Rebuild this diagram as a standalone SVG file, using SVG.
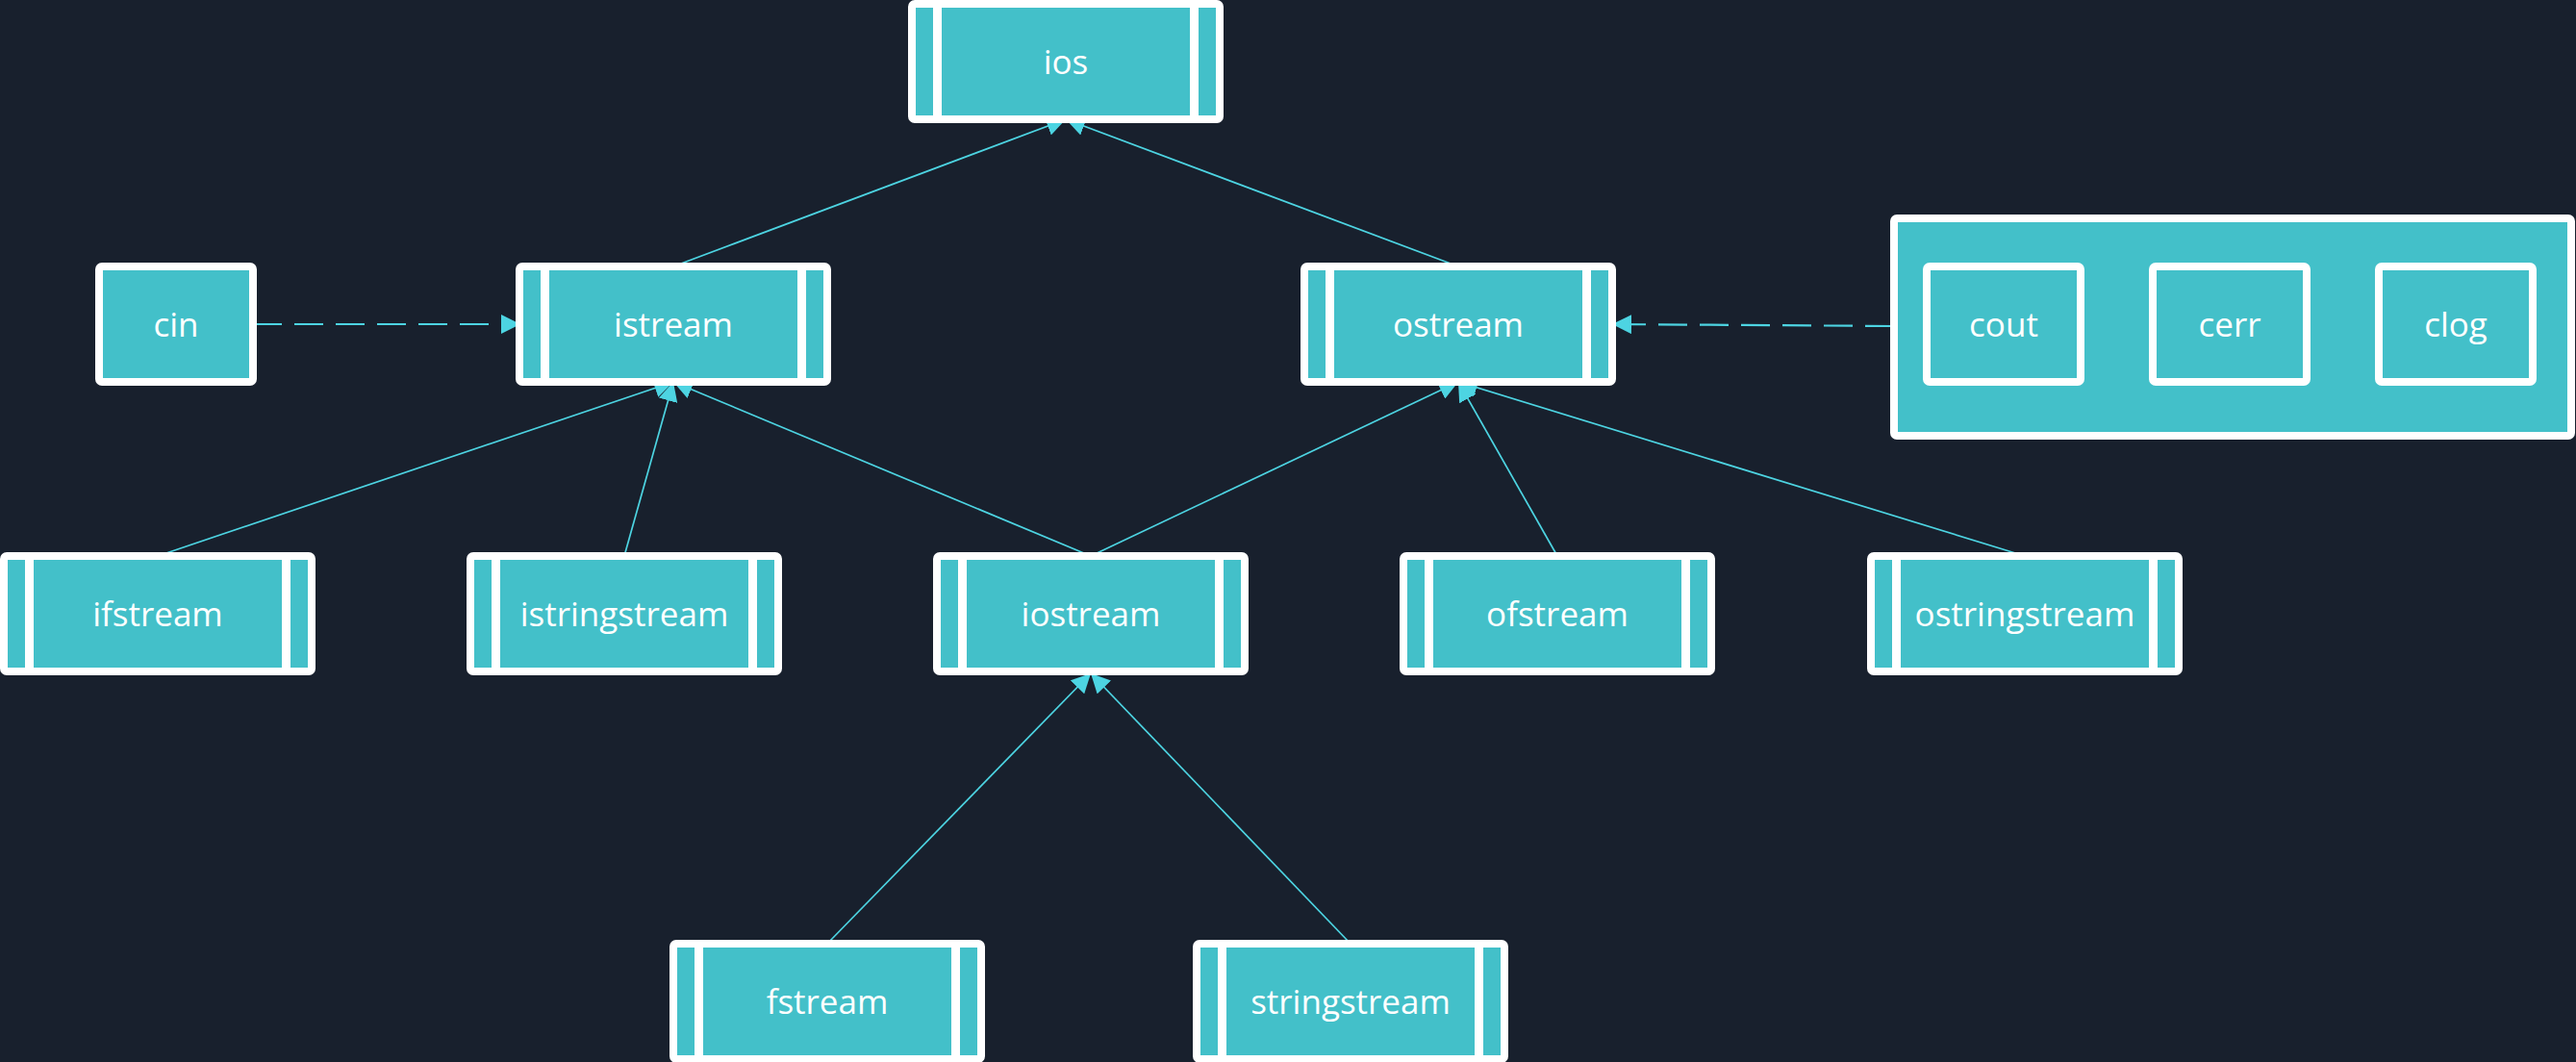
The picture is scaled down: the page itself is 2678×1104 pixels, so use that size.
<svg xmlns="http://www.w3.org/2000/svg" width="2678" height="1104" viewBox="0 0 2678 1104">
<style>
.bg{fill:#18202d}
.box{fill:#43c0c9;stroke:#ffffff;stroke-width:8}
.bar{fill:#ffffff}
.lbl{font-family:"Open Sans","Noto Sans","DejaVu Sans",sans-serif;font-size:35px;fill:#ffffff;text-anchor:middle}
.edge{fill:none;stroke:#4dd4e2;stroke-width:1.7}
.dash{fill:none;stroke:#4dd4e2;stroke-width:2.2;stroke-dasharray:30 13}
</style>
<defs>
<marker id="arr" viewBox="0 0 20 20" markerWidth="20" markerHeight="20" refX="20" refY="10" orient="auto" markerUnits="userSpaceOnUse">
<path d="M0,0 L20,10 L0,20 z" fill="#4dd4e2"/>
</marker>
</defs>
<rect class="bg" x="0" y="0" width="2678" height="1104"/>

<g id="connectors">
<line class="edge" x1="700" y1="277" x2="1108" y2="124" marker-end="url(#arr)"/>
<line class="edge" x1="1516" y1="277" x2="1108" y2="124" marker-end="url(#arr)"/>
<line class="edge" x1="164" y1="578" x2="700" y2="397" marker-end="url(#arr)"/>
<line class="edge" x1="649" y1="578" x2="700" y2="397" marker-end="url(#arr)"/>
<line class="edge" x1="1134" y1="578" x2="700" y2="397" marker-end="url(#arr)"/>
<line class="edge" x1="1134" y1="578" x2="1516" y2="397" marker-end="url(#arr)"/>
<line class="edge" x1="1619" y1="578" x2="1516" y2="397" marker-end="url(#arr)"/>
<line class="edge" x1="2105" y1="578" x2="1516" y2="397" marker-end="url(#arr)"/>
<line class="edge" x1="860" y1="981" x2="1134" y2="700" marker-end="url(#arr)"/>
<line class="edge" x1="1404" y1="981" x2="1134" y2="700" marker-end="url(#arr)"/>
<line class="dash" x1="263" y1="337" x2="541" y2="337" marker-end="url(#arr)"/>
<line class="dash" x1="1969" y1="339" x2="1676" y2="337" marker-end="url(#arr)"/>
</g>

<g id="ios">
<rect class="box" x="948" y="4" width="320" height="120" rx="3"/>
<rect class="bar" x="970" y="0" width="9" height="128"/>
<rect class="bar" x="1237" y="0" width="9" height="128"/>
<text class="lbl" x="1108" y="77">ios</text>
</g>
<g id="istream">
<rect class="box" x="540" y="277" width="320" height="120" rx="3"/>
<rect class="bar" x="562" y="273" width="9" height="128"/>
<rect class="bar" x="829" y="273" width="9" height="128"/>
<text class="lbl" x="700" y="350">istream</text>
</g>
<g id="ostream">
<rect class="box" x="1356" y="277" width="320" height="120" rx="3"/>
<rect class="bar" x="1378" y="273" width="9" height="128"/>
<rect class="bar" x="1645" y="273" width="9" height="128"/>
<text class="lbl" x="1516" y="350">ostream</text>
</g>
<g id="cin">
<rect class="box" x="103" y="277" width="160" height="120" rx="3"/>
<text class="lbl" x="183" y="350">cin</text>
</g>
<g id="stdout-group">
<rect class="box" x="1969" y="227" width="704" height="226" rx="3"/>
</g>
<g id="cout">
<rect class="box" x="2003" y="277" width="160" height="120" rx="3"/>
<text class="lbl" x="2083" y="350">cout</text>
</g>
<g id="cerr">
<rect class="box" x="2238" y="277" width="160" height="120" rx="3"/>
<text class="lbl" x="2318" y="350">cerr</text>
</g>
<g id="clog">
<rect class="box" x="2473" y="277" width="160" height="120" rx="3"/>
<text class="lbl" x="2553" y="350">clog</text>
</g>
<g id="ifstream">
<rect class="box" x="4" y="578" width="320" height="120" rx="3"/>
<rect class="bar" x="26" y="574" width="9" height="128"/>
<rect class="bar" x="293" y="574" width="9" height="128"/>
<text class="lbl" x="164" y="651">ifstream</text>
</g>
<g id="istringstream">
<rect class="box" x="489" y="578" width="320" height="120" rx="3"/>
<rect class="bar" x="511" y="574" width="9" height="128"/>
<rect class="bar" x="778" y="574" width="9" height="128"/>
<text class="lbl" x="649" y="651">istringstream</text>
</g>
<g id="iostream">
<rect class="box" x="974" y="578" width="320" height="120" rx="3"/>
<rect class="bar" x="996" y="574" width="9" height="128"/>
<rect class="bar" x="1263" y="574" width="9" height="128"/>
<text class="lbl" x="1134" y="651">iostream</text>
</g>
<g id="ofstream">
<rect class="box" x="1459" y="578" width="320" height="120" rx="3"/>
<rect class="bar" x="1481" y="574" width="9" height="128"/>
<rect class="bar" x="1748" y="574" width="9" height="128"/>
<text class="lbl" x="1619" y="651">ofstream</text>
</g>
<g id="ostringstream">
<rect class="box" x="1945" y="578" width="320" height="120" rx="3"/>
<rect class="bar" x="1967" y="574" width="9" height="128"/>
<rect class="bar" x="2234" y="574" width="9" height="128"/>
<text class="lbl" x="2105" y="651">ostringstream</text>
</g>
<g id="fstream">
<rect class="box" x="700" y="981" width="320" height="120" rx="3"/>
<rect class="bar" x="722" y="977" width="9" height="128"/>
<rect class="bar" x="989" y="977" width="9" height="128"/>
<text class="lbl" x="860" y="1054">fstream</text>
</g>
<g id="stringstream">
<rect class="box" x="1244" y="981" width="320" height="120" rx="3"/>
<rect class="bar" x="1266" y="977" width="9" height="128"/>
<rect class="bar" x="1533" y="977" width="9" height="128"/>
<text class="lbl" x="1404" y="1054">stringstream</text>
</g>
</svg>
